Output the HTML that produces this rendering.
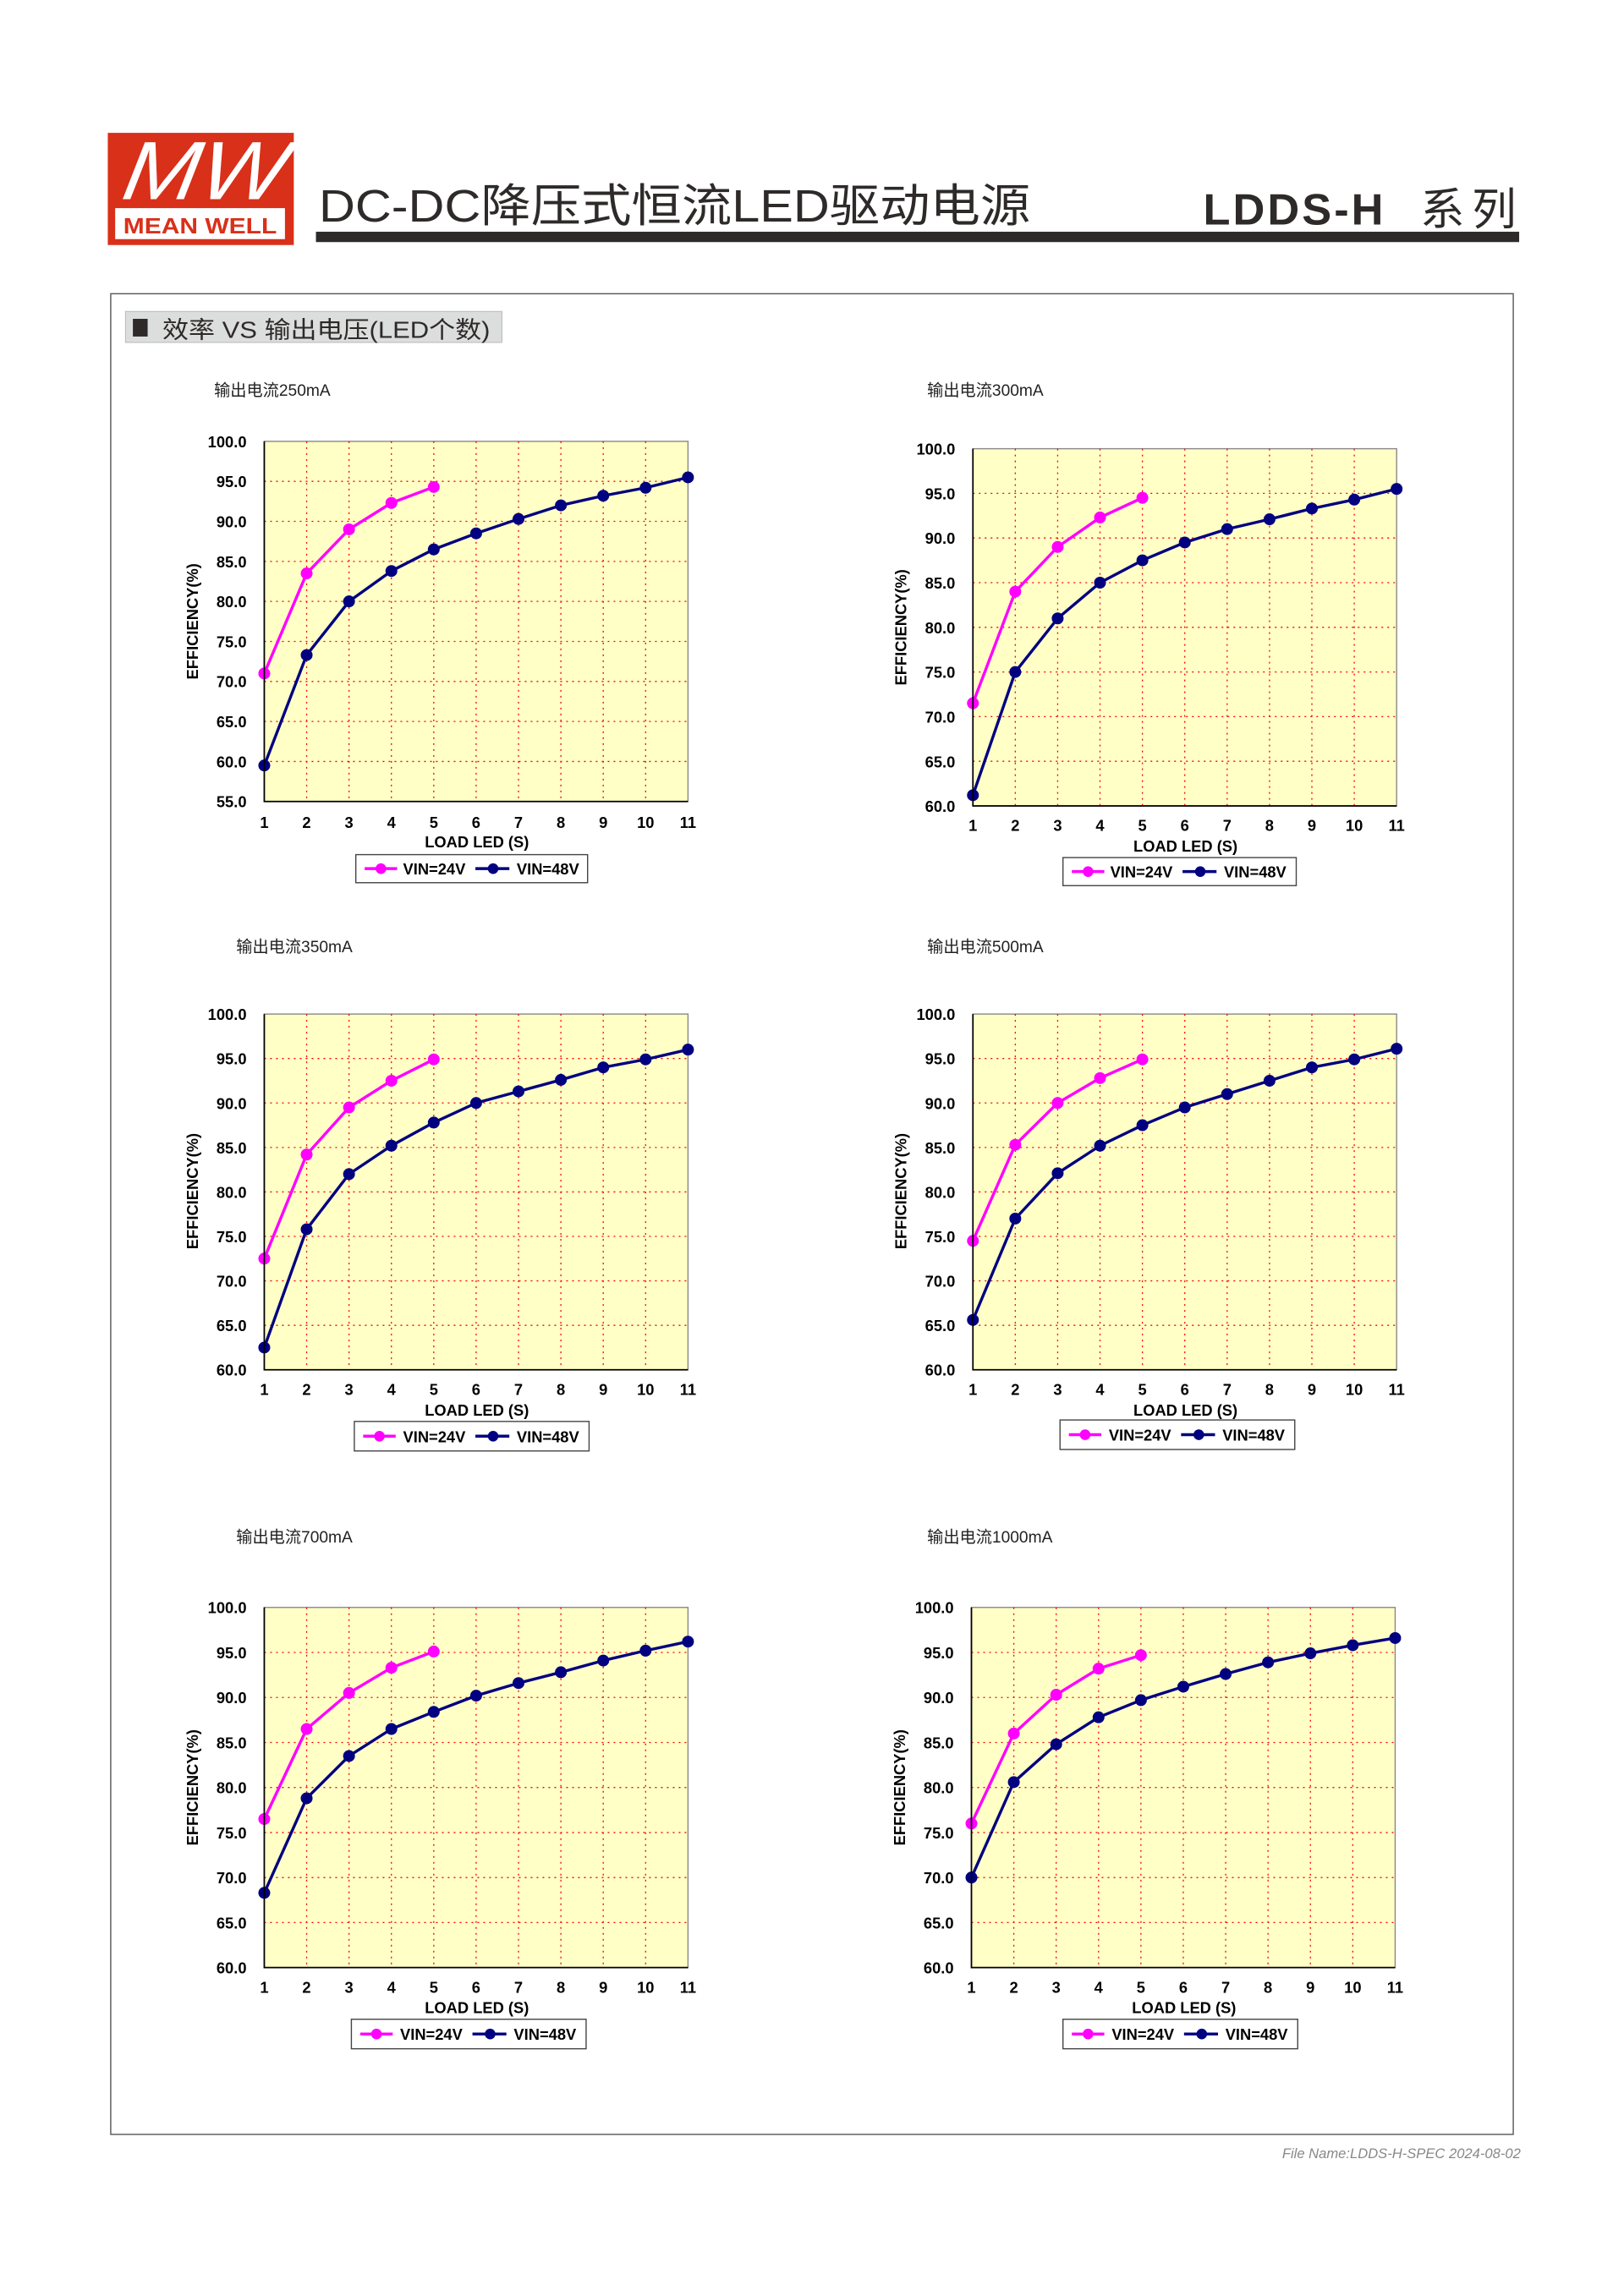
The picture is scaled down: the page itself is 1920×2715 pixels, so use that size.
<!DOCTYPE html>
<html><head><meta charset="utf-8"><style>
html,body{margin:0;padding:0;background:#fff;}
svg{display:block;}
.t{font-family:"Liberation Sans",Arial,sans-serif;font-weight:bold;font-size:10.5px;fill:#000;}
.cn{font-family:"Liberation Sans","Noto Sans CJK SC",sans-serif;font-size:11px;fill:#222;}
.ln{fill:none;stroke-width:3.4;vector-effect:non-scaling-stroke;stroke-linejoin:round;}
.mk{fill:none;stroke-width:14;stroke-linecap:round;vector-effect:non-scaling-stroke;}
.gd{fill:none;stroke:#f00;stroke-width:1.3;stroke-dasharray:2 5;vector-effect:non-scaling-stroke;}
.gh{fill:none;stroke:#f00;stroke-width:1.3;stroke-dasharray:2 5;vector-effect:non-scaling-stroke;}
</style></head><body>
<svg width="1920" height="2715" viewBox="0 0 1100 1555.5" xmlns="http://www.w3.org/2000/svg">
<!-- header -->
<rect x="73" y="90" width="126" height="76" fill="#d9301a"/>
<text x="136" y="135" text-anchor="middle" font-family="Liberation Sans,sans-serif" font-style="italic" font-size="56" fill="#fff" textLength="110" lengthAdjust="spacingAndGlyphs" transform="skewX(-10) translate(24,0)">MW</text>
<rect x="78" y="141" width="115" height="21" fill="#fff"/>
<text x="135.5" y="158" text-anchor="middle" font-family="Liberation Sans,sans-serif" font-weight="bold" font-size="15" fill="#d9301a" textLength="104" lengthAdjust="spacingAndGlyphs">MEAN WELL</text>
<text x="216" y="150" font-family="Liberation Sans,'Noto Sans CJK SC',sans-serif" font-size="31" fill="#2e2a2a" textLength="482" lengthAdjust="spacingAndGlyphs">DC-DC降压式恒流LED驱动电源</text>
<text x="815" y="152" font-family="Liberation Sans,sans-serif" font-weight="bold" font-size="30" fill="#2e2a2a" textLength="122" lengthAdjust="spacing">LDDS-H</text>
<text x="962" y="152" font-family="'Noto Sans CJK SC',sans-serif" font-size="30" fill="#2e2a2a" textLength="65" lengthAdjust="spacing">系列</text>
<rect x="214" y="157" width="815" height="7" fill="#2e2a2a"/>
<!-- frame -->
<rect x="75" y="199" width="950" height="1247" fill="none" stroke="#555" stroke-width="0.8"/>
<rect x="85" y="211" width="255" height="21" fill="#dcdedd" stroke="#bbb" stroke-width="0.6"/>
<rect x="90" y="216" width="10" height="12" fill="#2e2a2a"/>
<text x="110" y="229" font-family="Liberation Sans,'Noto Sans CJK SC',sans-serif" font-size="16" fill="#2e2a2a" textLength="222" lengthAdjust="spacingAndGlyphs">效率 VS 输出电压(LED个数)</text>
<text x="1030" y="1462" text-anchor="end" font-family="Liberation Sans,sans-serif" font-style="italic" font-size="9.5" fill="#888">File Name:LDDS-H-SPEC    2024-08-02</text>

<!-- Chart A -->
<g transform="translate(179,299)">
<text class="cn" x="-34" y="-31">输出电流250mA</text>
<rect x="0" y="0" width="287" height="244" fill="#ffffc6" stroke="#888" stroke-width="0.8"/>
<svg x="0" y="0" width="287" height="244" viewBox="1 -100 10 45" preserveAspectRatio="none" overflow="visible">
<path class="gd" d="M2,-100V-55M3,-100V-55M4,-100V-55M5,-100V-55M6,-100V-55M7,-100V-55M8,-100V-55M9,-100V-55M10,-100V-55"/>
<path class="gh" d="M1,-95H11M1,-90H11M1,-85H11M1,-80H11M1,-75H11M1,-70H11M1,-65H11M1,-60H11"/>
<polyline class="ln" stroke="#ff00ff" points="1,-71 2,-83.5 3,-89 4,-92.3 5,-94.3"/>
<path class="mk" stroke="#ff00ff" d="M1,-71h0M2,-83.5h0M3,-89h0M4,-92.3h0M5,-94.3h0"/>
<polyline class="ln" stroke="#000080" points="1,-59.5 2,-73.3 3,-80 4,-83.8 5,-86.5 6,-88.5 7,-90.3 8,-92 9,-93.2 10,-94.2 11,-95.5"/>
<path class="mk" stroke="#000080" d="M1,-59.5h0M2,-73.3h0M3,-80h0M4,-83.8h0M5,-86.5h0M6,-88.5h0M7,-90.3h0M8,-92h0M9,-93.2h0M10,-94.2h0M11,-95.5h0"/>
</svg>
<path d="M0,0V244H287" fill="none" stroke="#000" stroke-width="1"/>
<g class="t" text-anchor="end"><text x="-12" y="4">100.0</text><text x="-12" y="31.1">95.0</text><text x="-12" y="58.2">90.0</text><text x="-12" y="85.3">85.0</text><text x="-12" y="112.4">80.0</text><text x="-12" y="139.5">75.0</text><text x="-12" y="166.6">70.0</text><text x="-12" y="193.7">65.0</text><text x="-12" y="220.8">60.0</text><text x="-12" y="248">55.0</text></g>
<g class="t" text-anchor="middle"><text x="0" y="262">1</text><text x="28.7" y="262">2</text><text x="57.4" y="262">3</text><text x="86.1" y="262">4</text><text x="114.8" y="262">5</text><text x="143.5" y="262">6</text><text x="172.2" y="262">7</text><text x="200.9" y="262">8</text><text x="229.6" y="262">9</text><text x="258.3" y="262">10</text><text x="287" y="262">11</text>
<text x="144" y="275">LOAD LED (S)</text></g>
<text class="t" transform="translate(-45,122) rotate(-90)" text-anchor="middle" font-size="10">EFFICIENCY(%)</text>
<rect x="62" y="280" width="157" height="19" fill="#fff" stroke="#444" stroke-width="0.8"/>
<line x1="68" y1="289.5" x2="90" y2="289.5" stroke="#f0f" stroke-width="2"/><circle cx="79" cy="289.5" r="3.6" fill="#f0f"/>
<text class="t" x="94" y="293.5">VIN=24V</text>
<line x1="143" y1="289.5" x2="166" y2="289.5" stroke="#000080" stroke-width="2"/><circle cx="155" cy="289.5" r="3.6" fill="#000080"/>
<text class="t" x="171" y="293.5">VIN=48V</text>
</g>

<!-- Chart B -->
<g transform="translate(659,304)">
<text class="cn" x="-31" y="-36">输出电流300mA</text>
<rect x="0" y="0" width="287" height="242" fill="#ffffc6" stroke="#888" stroke-width="0.8"/>
<svg x="0" y="0" width="287" height="242" viewBox="1 -100 10 40" preserveAspectRatio="none" overflow="visible">
<path class="gd" d="M2,-100V-60M3,-100V-60M4,-100V-60M5,-100V-60M6,-100V-60M7,-100V-60M8,-100V-60M9,-100V-60M10,-100V-60"/>
<path class="gh" d="M1,-95H11M1,-90H11M1,-85H11M1,-80H11M1,-75H11M1,-70H11M1,-65H11"/>
<polyline class="ln" stroke="#ff00ff" points="1,-71.5 2,-84 3,-89 4,-92.3 5,-94.5"/>
<path class="mk" stroke="#ff00ff" d="M1,-71.5h0M2,-84h0M3,-89h0M4,-92.3h0M5,-94.5h0"/>
<polyline class="ln" stroke="#000080" points="1,-61.2 2,-75 3,-81 4,-85 5,-87.5 6,-89.5 7,-91 8,-92.1 9,-93.3 10,-94.3 11,-95.5"/>
<path class="mk" stroke="#000080" d="M1,-61.2h0M2,-75h0M3,-81h0M4,-85h0M5,-87.5h0M6,-89.5h0M7,-91h0M8,-92.1h0M9,-93.3h0M10,-94.3h0M11,-95.5h0"/>
</svg>
<path d="M0,0V242H287" fill="none" stroke="#000" stroke-width="1"/>
<g class="t" text-anchor="end"><text x="-12" y="4">100.0</text><text x="-12" y="34.3">95.0</text><text x="-12" y="64.5">90.0</text><text x="-12" y="94.8">85.0</text><text x="-12" y="125">80.0</text><text x="-12" y="155.3">75.0</text><text x="-12" y="185.5">70.0</text><text x="-12" y="215.8">65.0</text><text x="-12" y="246">60.0</text></g>
<g class="t" text-anchor="middle"><text x="0" y="259">1</text><text x="28.7" y="259">2</text><text x="57.4" y="259">3</text><text x="86.1" y="259">4</text><text x="114.8" y="259">5</text><text x="143.5" y="259">6</text><text x="172.2" y="259">7</text><text x="200.9" y="259">8</text><text x="229.6" y="259">9</text><text x="258.3" y="259">10</text><text x="287" y="259">11</text>
<text x="144" y="273">LOAD LED (S)</text></g>
<text class="t" transform="translate(-45,121) rotate(-90)" text-anchor="middle" font-size="10">EFFICIENCY(%)</text>
<rect x="61" y="277" width="158" height="19" fill="#fff" stroke="#444" stroke-width="0.8"/>
<line x1="67" y1="286.5" x2="89" y2="286.5" stroke="#f0f" stroke-width="2"/><circle cx="78" cy="286.5" r="3.6" fill="#f0f"/>
<text class="t" x="93" y="290.5">VIN=24V</text>
<line x1="142" y1="286.5" x2="165" y2="286.5" stroke="#000080" stroke-width="2"/><circle cx="154" cy="286.5" r="3.6" fill="#000080"/>
<text class="t" x="170" y="290.5">VIN=48V</text>
</g>

<!-- Chart C -->
<g transform="translate(179,687)">
<text class="cn" x="-19" y="-42">输出电流350mA</text>
<rect x="0" y="0" width="287" height="241" fill="#ffffc6" stroke="#888" stroke-width="0.8"/>
<svg x="0" y="0" width="287" height="241" viewBox="1 -100 10 40" preserveAspectRatio="none" overflow="visible">
<path class="gd" d="M2,-100V-60M3,-100V-60M4,-100V-60M5,-100V-60M6,-100V-60M7,-100V-60M8,-100V-60M9,-100V-60M10,-100V-60"/>
<path class="gh" d="M1,-95H11M1,-90H11M1,-85H11M1,-80H11M1,-75H11M1,-70H11M1,-65H11"/>
<polyline class="ln" stroke="#ff00ff" points="1,-72.5 2,-84.2 3,-89.5 4,-92.5 5,-94.9"/>
<path class="mk" stroke="#ff00ff" d="M1,-72.5h0M2,-84.2h0M3,-89.5h0M4,-92.5h0M5,-94.9h0"/>
<polyline class="ln" stroke="#000080" points="1,-62.5 2,-75.8 3,-82 4,-85.2 5,-87.8 6,-90 7,-91.3 8,-92.6 9,-94 10,-94.9 11,-96"/>
<path class="mk" stroke="#000080" d="M1,-62.5h0M2,-75.8h0M3,-82h0M4,-85.2h0M5,-87.8h0M6,-90h0M7,-91.3h0M8,-92.6h0M9,-94h0M10,-94.9h0M11,-96h0"/>
</svg>
<path d="M0,0V241H287" fill="none" stroke="#000" stroke-width="1"/>
<g class="t" text-anchor="end"><text x="-12" y="4">100.0</text><text x="-12" y="34.1">95.0</text><text x="-12" y="64.3">90.0</text><text x="-12" y="94.4">85.0</text><text x="-12" y="124.5">80.0</text><text x="-12" y="154.6">75.0</text><text x="-12" y="184.8">70.0</text><text x="-12" y="214.9">65.0</text><text x="-12" y="245">60.0</text></g>
<g class="t" text-anchor="middle"><text x="0" y="258">1</text><text x="28.7" y="258">2</text><text x="57.4" y="258">3</text><text x="86.1" y="258">4</text><text x="114.8" y="258">5</text><text x="143.5" y="258">6</text><text x="172.2" y="258">7</text><text x="200.9" y="258">8</text><text x="229.6" y="258">9</text><text x="258.3" y="258">10</text><text x="287" y="258">11</text>
<text x="144" y="272">LOAD LED (S)</text></g>
<text class="t" transform="translate(-45,120) rotate(-90)" text-anchor="middle" font-size="10">EFFICIENCY(%)</text>
<rect x="61" y="276" width="159" height="20" fill="#fff" stroke="#444" stroke-width="0.8"/>
<line x1="67" y1="286" x2="89" y2="286" stroke="#f0f" stroke-width="2"/><circle cx="78" cy="286" r="3.6" fill="#f0f"/>
<text class="t" x="94" y="290">VIN=24V</text>
<line x1="143" y1="286" x2="166" y2="286" stroke="#000080" stroke-width="2"/><circle cx="155" cy="286" r="3.6" fill="#000080"/>
<text class="t" x="171" y="290">VIN=48V</text>
</g>

<!-- Chart D -->
<g transform="translate(659,687)">
<text class="cn" x="-31" y="-42">输出电流500mA</text>
<rect x="0" y="0" width="287" height="241" fill="#ffffc6" stroke="#888" stroke-width="0.8"/>
<svg x="0" y="0" width="287" height="241" viewBox="1 -100 10 40" preserveAspectRatio="none" overflow="visible">
<path class="gd" d="M2,-100V-60M3,-100V-60M4,-100V-60M5,-100V-60M6,-100V-60M7,-100V-60M8,-100V-60M9,-100V-60M10,-100V-60"/>
<path class="gh" d="M1,-95H11M1,-90H11M1,-85H11M1,-80H11M1,-75H11M1,-70H11M1,-65H11"/>
<polyline class="ln" stroke="#ff00ff" points="1,-74.5 2,-85.3 3,-90 4,-92.8 5,-94.9"/>
<path class="mk" stroke="#ff00ff" d="M1,-74.5h0M2,-85.3h0M3,-90h0M4,-92.8h0M5,-94.9h0"/>
<polyline class="ln" stroke="#000080" points="1,-65.6 2,-77 3,-82.1 4,-85.2 5,-87.5 6,-89.5 7,-91 8,-92.5 9,-94 10,-94.9 11,-96.1"/>
<path class="mk" stroke="#000080" d="M1,-65.6h0M2,-77h0M3,-82.1h0M4,-85.2h0M5,-87.5h0M6,-89.5h0M7,-91h0M8,-92.5h0M9,-94h0M10,-94.9h0M11,-96.1h0"/>
</svg>
<path d="M0,0V241H287" fill="none" stroke="#000" stroke-width="1"/>
<g class="t" text-anchor="end"><text x="-12" y="4">100.0</text><text x="-12" y="34.1">95.0</text><text x="-12" y="64.3">90.0</text><text x="-12" y="94.4">85.0</text><text x="-12" y="124.5">80.0</text><text x="-12" y="154.6">75.0</text><text x="-12" y="184.8">70.0</text><text x="-12" y="214.9">65.0</text><text x="-12" y="245">60.0</text></g>
<g class="t" text-anchor="middle"><text x="0" y="258">1</text><text x="28.7" y="258">2</text><text x="57.4" y="258">3</text><text x="86.1" y="258">4</text><text x="114.8" y="258">5</text><text x="143.5" y="258">6</text><text x="172.2" y="258">7</text><text x="200.9" y="258">8</text><text x="229.6" y="258">9</text><text x="258.3" y="258">10</text><text x="287" y="258">11</text>
<text x="144" y="272">LOAD LED (S)</text></g>
<text class="t" transform="translate(-45,120) rotate(-90)" text-anchor="middle" font-size="10">EFFICIENCY(%)</text>
<rect x="59" y="275" width="159" height="20" fill="#fff" stroke="#444" stroke-width="0.8"/>
<line x1="65" y1="285" x2="87" y2="285" stroke="#f0f" stroke-width="2"/><circle cx="76" cy="285" r="3.6" fill="#f0f"/>
<text class="t" x="92" y="289">VIN=24V</text>
<line x1="141" y1="285" x2="164" y2="285" stroke="#000080" stroke-width="2"/><circle cx="153" cy="285" r="3.6" fill="#000080"/>
<text class="t" x="169" y="289">VIN=48V</text>
</g>

<!-- Chart E -->
<g transform="translate(179,1089)">
<text class="cn" x="-19" y="-44">输出电流700mA</text>
<rect x="0" y="0" width="287" height="244" fill="#ffffc6" stroke="#888" stroke-width="0.8"/>
<svg x="0" y="0" width="287" height="244" viewBox="1 -100 10 40" preserveAspectRatio="none" overflow="visible">
<path class="gd" d="M2,-100V-60M3,-100V-60M4,-100V-60M5,-100V-60M6,-100V-60M7,-100V-60M8,-100V-60M9,-100V-60M10,-100V-60"/>
<path class="gh" d="M1,-95H11M1,-90H11M1,-85H11M1,-80H11M1,-75H11M1,-70H11M1,-65H11"/>
<polyline class="ln" stroke="#ff00ff" points="1,-76.5 2,-86.5 3,-90.5 4,-93.3 5,-95.1"/>
<path class="mk" stroke="#ff00ff" d="M1,-76.5h0M2,-86.5h0M3,-90.5h0M4,-93.3h0M5,-95.1h0"/>
<polyline class="ln" stroke="#000080" points="1,-68.3 2,-78.8 3,-83.5 4,-86.5 5,-88.4 6,-90.2 7,-91.6 8,-92.8 9,-94.1 10,-95.2 11,-96.2"/>
<path class="mk" stroke="#000080" d="M1,-68.3h0M2,-78.8h0M3,-83.5h0M4,-86.5h0M5,-88.4h0M6,-90.2h0M7,-91.6h0M8,-92.8h0M9,-94.1h0M10,-95.2h0M11,-96.2h0"/>
</svg>
<path d="M0,0V244H287" fill="none" stroke="#000" stroke-width="1"/>
<g class="t" text-anchor="end"><text x="-12" y="4">100.0</text><text x="-12" y="34.5">95.0</text><text x="-12" y="65">90.0</text><text x="-12" y="95.5">85.0</text><text x="-12" y="126">80.0</text><text x="-12" y="156.5">75.0</text><text x="-12" y="187">70.0</text><text x="-12" y="217.5">65.0</text><text x="-12" y="248">60.0</text></g>
<g class="t" text-anchor="middle"><text x="0" y="261">1</text><text x="28.7" y="261">2</text><text x="57.4" y="261">3</text><text x="86.1" y="261">4</text><text x="114.8" y="261">5</text><text x="143.5" y="261">6</text><text x="172.2" y="261">7</text><text x="200.9" y="261">8</text><text x="229.6" y="261">9</text><text x="258.3" y="261">10</text><text x="287" y="261">11</text>
<text x="144" y="275">LOAD LED (S)</text></g>
<text class="t" transform="translate(-45,122) rotate(-90)" text-anchor="middle" font-size="10">EFFICIENCY(%)</text>
<rect x="59" y="279" width="159" height="20" fill="#fff" stroke="#444" stroke-width="0.8"/>
<line x1="65" y1="289" x2="87" y2="289" stroke="#f0f" stroke-width="2"/><circle cx="76" cy="289" r="3.6" fill="#f0f"/>
<text class="t" x="92" y="293">VIN=24V</text>
<line x1="141" y1="289" x2="164" y2="289" stroke="#000080" stroke-width="2"/><circle cx="153" cy="289" r="3.6" fill="#000080"/>
<text class="t" x="169" y="293">VIN=48V</text>
</g>

<!-- Chart F -->
<g transform="translate(658,1089)">
<text class="cn" x="-30" y="-44">输出电流1000mA</text>
<rect x="0" y="0" width="287" height="244" fill="#ffffc6" stroke="#888" stroke-width="0.8"/>
<svg x="0" y="0" width="287" height="244" viewBox="1 -100 10 40" preserveAspectRatio="none" overflow="visible">
<path class="gd" d="M2,-100V-60M3,-100V-60M4,-100V-60M5,-100V-60M6,-100V-60M7,-100V-60M8,-100V-60M9,-100V-60M10,-100V-60"/>
<path class="gh" d="M1,-95H11M1,-90H11M1,-85H11M1,-80H11M1,-75H11M1,-70H11M1,-65H11"/>
<polyline class="ln" stroke="#ff00ff" points="1,-76 2,-86 3,-90.3 4,-93.2 5,-94.7"/>
<path class="mk" stroke="#ff00ff" d="M1,-76h0M2,-86h0M3,-90.3h0M4,-93.2h0M5,-94.7h0"/>
<polyline class="ln" stroke="#000080" points="1,-70 2,-80.6 3,-84.8 4,-87.8 5,-89.7 6,-91.2 7,-92.6 8,-93.9 9,-94.9 10,-95.8 11,-96.6"/>
<path class="mk" stroke="#000080" d="M1,-70h0M2,-80.6h0M3,-84.8h0M4,-87.8h0M5,-89.7h0M6,-91.2h0M7,-92.6h0M8,-93.9h0M9,-94.9h0M10,-95.8h0M11,-96.6h0"/>
</svg>
<path d="M0,0V244H287" fill="none" stroke="#000" stroke-width="1"/>
<g class="t" text-anchor="end"><text x="-12" y="4">100.0</text><text x="-12" y="34.5">95.0</text><text x="-12" y="65">90.0</text><text x="-12" y="95.5">85.0</text><text x="-12" y="126">80.0</text><text x="-12" y="156.5">75.0</text><text x="-12" y="187">70.0</text><text x="-12" y="217.5">65.0</text><text x="-12" y="248">60.0</text></g>
<g class="t" text-anchor="middle"><text x="0" y="261">1</text><text x="28.7" y="261">2</text><text x="57.4" y="261">3</text><text x="86.1" y="261">4</text><text x="114.8" y="261">5</text><text x="143.5" y="261">6</text><text x="172.2" y="261">7</text><text x="200.9" y="261">8</text><text x="229.6" y="261">9</text><text x="258.3" y="261">10</text><text x="287" y="261">11</text>
<text x="144" y="275">LOAD LED (S)</text></g>
<text class="t" transform="translate(-45,122) rotate(-90)" text-anchor="middle" font-size="10">EFFICIENCY(%)</text>
<rect x="62" y="279" width="159" height="20" fill="#fff" stroke="#444" stroke-width="0.8"/>
<line x1="68" y1="289" x2="90" y2="289" stroke="#f0f" stroke-width="2"/><circle cx="79" cy="289" r="3.6" fill="#f0f"/>
<text class="t" x="95" y="293">VIN=24V</text>
<line x1="144" y1="289" x2="167" y2="289" stroke="#000080" stroke-width="2"/><circle cx="156" cy="289" r="3.6" fill="#000080"/>
<text class="t" x="172" y="293">VIN=48V</text>
</g>
</svg>
</body></html>
